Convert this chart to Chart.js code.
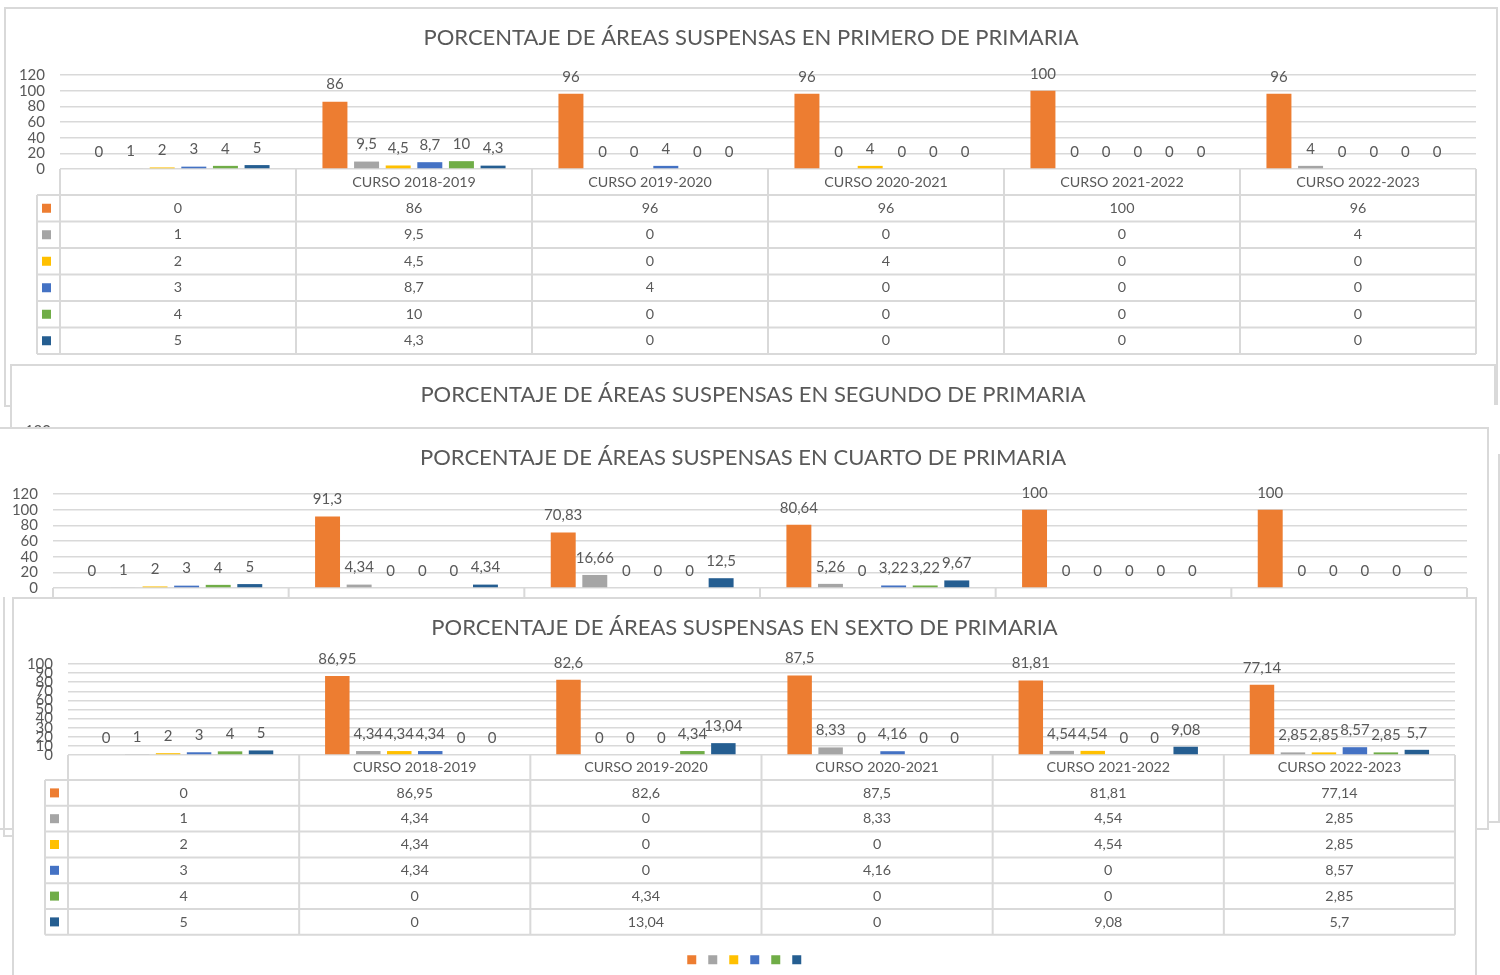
<!DOCTYPE html>
<html>
<head>
<meta charset="utf-8">
<script src="https://cdn.jsdelivr.net/npm/chart.js"></script>
<style>
  body { margin: 0; width: 1500px; height: 975px; position: relative; overflow: hidden; background: #fff; font-family: Lato, sans-serif; }
  .panel { position: absolute; background: #fff; overflow: hidden; }
  .panel canvas { position: absolute; left: 0; top: 0; }
  .marco { position: absolute; inset: 0; border: 2px solid #d9d9d9; pointer-events: none; }
  .linea { position: absolute; box-sizing: border-box; }
</style>
</head>
<body>

<div class="panel" style="left:4px;top:7px;width:1494px;height:400px"><canvas id="c1" width="1494" height="400"></canvas><div class="marco"></div></div>
<div class="panel" style="left:10px;top:364px;width:1486px;height:400px"><canvas id="c2" width="1486" height="400"></canvas><div class="marco"></div></div>
<div class="linea" style="left:1489px;top:405px;width:11px;height:418px;background:#fff;border-bottom:2px solid #d9d9d9"><div style="position:absolute;right:0;top:49px;bottom:0;width:2px;background:#d9d9d9"></div></div>
<div class="panel" style="left:-3px;top:427px;width:1492px;height:403px"><canvas id="c3" width="1492" height="403"></canvas><div class="marco"></div></div>
<div class="linea" style="left:3px;top:597px;width:10px;height:240px;border-left:2px solid #d9d9d9;border-bottom:2px solid #d9d9d9"></div>
<div class="panel" style="left:12px;top:597px;width:1465px;height:400px"><canvas id="c4" width="1465" height="400"></canvas><div class="marco"></div></div>

<script>
// colores de las series (0..5 áreas suspensas)
const colores = ["#ED7D31", "#A5A5A5", "#FFC000", "#4472C4", "#70AD47", "#255E91"];
const series = ["0", "1", "2", "3", "4", "5"];
const cursos = ["", "CURSO 2018-2019", "CURSO 2019-2020", "CURSO 2020-2021", "CURSO 2021-2022", "CURSO 2022-2023"];

// --- Primero ---
const primero0 = [0, 86, 96, 96, 100, 96];
const primero1 = [1, 9.5, 0, 0, 0, 4];
const primero2 = [2, 4.5, 0, 4, 0, 0];
const primero3 = [3, 8.7, 4, 0, 0, 0];
const primero4 = [4, 10, 0, 0, 0, 0];
const primero5 = [5, 4.3, 0, 0, 0, 0];

// --- Segundo (tapado, no se ven los datos) ---
const segundo0 = [];
const segundo1 = [];
const segundo2 = [];
const segundo3 = [];
const segundo4 = [];
const segundo5 = [];

// --- Cuarto ---
const cuarto0 = [0, 91.3, 70.83, 80.64, 100, 100];
const cuarto1 = [1, 4.34, 16.66, 5.26, 0, 0];
const cuarto2 = [2, 0, 0, 0, 0, 0];
const cuarto3 = [3, 0, 0, 3.22, 0, 0];
const cuarto4 = [4, 0, 0, 3.22, 0, 0];
const cuarto5 = [5, 4.34, 12.5, 9.67, 0, 0];

// --- Sexto ---
const sexto0 = [0, 86.95, 82.6, 87.5, 81.81, 77.14];
const sexto1 = [1, 4.34, 0, 8.33, 4.54, 2.85];
const sexto2 = [2, 4.34, 0, 0, 4.54, 2.85];
const sexto3 = [3, 4.34, 0, 4.16, 0, 8.57];
const sexto4 = [4, 0, 4.34, 0, 0, 2.85];
const sexto5 = [5, 0, 13.04, 0, 9.08, 5.7];

const gris = "#595959";
const linea = "#d9d9d9";

function fmt(v) {
  if (v === undefined || v === null) return "";
  return String(v).replace(".", ",");
}

// etiquetas encima de cada barra
const etiquetas = {
  id: "etiquetas",
  afterDatasetsDraw(chart) {
    const ctx = chart.ctx;
    ctx.save();
    ctx.font = "15px Lato";
    ctx.fillStyle = gris;
    ctx.textAlign = "center";
    ctx.textBaseline = "middle";
    chart.data.datasets.forEach((ds, i) => {
      chart.getDatasetMeta(i).data.forEach((bar, j) => {
        ctx.fillText(fmt(ds.data[j]), bar.x, bar.y - 17);
      });
    });
    ctx.restore();
  },
};

// tabla de datos debajo del eje
const tabla = {
  id: "tabla",
  afterDraw(chart, args, opts) {
    const { ctx, chartArea } = chart;
    const x = chart.scales.x;
    const n = chart.data.labels.length;
    const colW = (chartArea.right - chartArea.left) / n;
    const top = chartArea.bottom;
    const hH = opts.headerH, rH = opts.rowH;
    const izq = chartArea.left - 23;
    const filas = chart.data.datasets.length;
    const fin = top + hH + filas * rH;
    const bordes = [];
    for (let i = 0; i < n; i++) bordes.push(x.getPixelForValue(i) - colW / 2);
    bordes.push(x.getPixelForValue(n - 1) + colW / 2);

    ctx.save();
    ctx.strokeStyle = linea;
    ctx.lineWidth = 2;
    ctx.beginPath();
    bordes.forEach((b) => { ctx.moveTo(b, top); ctx.lineTo(b, fin); });
    ctx.moveTo(izq, top + hH); ctx.lineTo(izq, fin);
    for (let r = 0; r <= filas; r++) {
      const y = top + hH + r * rH;
      ctx.moveTo(izq, y); ctx.lineTo(bordes[n], y);
    }
    ctx.stroke();

    ctx.font = "14.3px Lato";
    ctx.fillStyle = gris;
    ctx.textAlign = "center";
    ctx.textBaseline = "middle";
    chart.data.labels.forEach((l, i) => {
      ctx.fillText(l, x.getPixelForValue(i), top + hH / 2);
    });
    chart.data.datasets.forEach((ds, r) => {
      const yc = top + hH + rH * (r + 0.5);
      ctx.fillStyle = ds.backgroundColor;
      ctx.fillRect(izq + 5, yc - 4.5, 9, 9);
      ctx.fillStyle = gris;
      for (let i = 0; i < n; i++) {
        ctx.fillText(fmt(ds.data[i]), x.getPixelForValue(i), yc);
      }
    });
    ctx.restore();
  },
};

function crearGrafico(id, titulo, datos, maxY, paso, areaTop, areaBottom, headerH, rowH) {
  const canvas = document.getElementById(id);
  const H = canvas.height;
  const tablaH = headerH + rowH * series.length;
  const ejeX = tablaH + 9;
  const leyendaH = 9 + 11.5 + 10;
  new Chart(canvas, {
    type: "bar",
    data: {
      labels: cursos,
      datasets: series.map((s, i) => ({
        label: s,
        data: datos[i],
        backgroundColor: colores[i],
        categoryPercentage: 0.804,
        barPercentage: 0.79,
      })),
    },
    options: {
      responsive: false,
      animation: false,
      layout: { padding: { left: 0, right: 0, top: 0, bottom: H - areaBottom - ejeX - leyendaH } },
      scales: {
        x: {
          grid: { display: false },
          border: { display: false },
          ticks: { display: false },
          afterFit: (s) => { s.height = ejeX; },
        },
        y: {
          min: 0,
          max: maxY,
          ticks: { stepSize: paso, autoSkip: false, padding: 15, color: gris, font: { family: "Lato", size: 15 } },
          grid: { color: linea, lineWidth: 1.5, drawTicks: false },
          border: { display: false },
          afterFit: (s) => { s.width = 56; },
        },
        yDer: {
          position: "right",
          grid: { display: false },
          border: { display: false },
          ticks: { display: false },
          afterFit: (s) => { s.width = 22; },
        },
      },
      plugins: {
        title: {
          display: true,
          text: titulo,
          color: gris,
          font: { family: "Lato", size: 22, weight: "normal" },
          padding: { top: 17.6, bottom: areaTop - 17.6 - 26.4 },
        },
        legend: {
          position: "bottom",
          labels: {
            boxWidth: 9,
            boxHeight: 9,
            padding: 11.5,
            font: { size: 1 },
            generateLabels: (chart) =>
              chart.data.datasets.map((ds, i) => ({
                text: "",
                fillStyle: ds.backgroundColor,
                strokeStyle: ds.backgroundColor,
                lineWidth: 0,
                datasetIndex: i,
              })),
          },
        },
        tooltip: { enabled: false },
        tabla: { headerH: headerH, rowH: rowH },
      },
    },
    plugins: [etiquetas, tabla],
  });
}

crearGrafico("c1", "PORCENTAJE DE ÁREAS SUSPENSAS EN PRIMERO DE PRIMARIA",
  [primero0, primero1, primero2, primero3, primero4, primero5], 120, 20, 68, 162, 26, 26.5);
crearGrafico("c2", "PORCENTAJE DE ÁREAS SUSPENSAS EN SEGUNDO DE PRIMARIA",
  [segundo0, segundo1, segundo2, segundo3, segundo4, segundo5], 120, 20, 67, 161, 26, 26.5);
crearGrafico("c3", "PORCENTAJE DE ÁREAS SUSPENSAS EN CUARTO DE PRIMARIA",
  [cuarto0, cuarto1, cuarto2, cuarto3, cuarto4, cuarto5], 120, 20, 67, 161, 28, 26.5);
crearGrafico("c4", "PORCENTAJE DE ÁREAS SUSPENSAS EN SEXTO DE PRIMARIA",
  [sexto0, sexto1, sexto2, sexto3, sexto4, sexto5], 100, 10, 67, 158, 25, 25.8);
</script>
</body>
</html>
